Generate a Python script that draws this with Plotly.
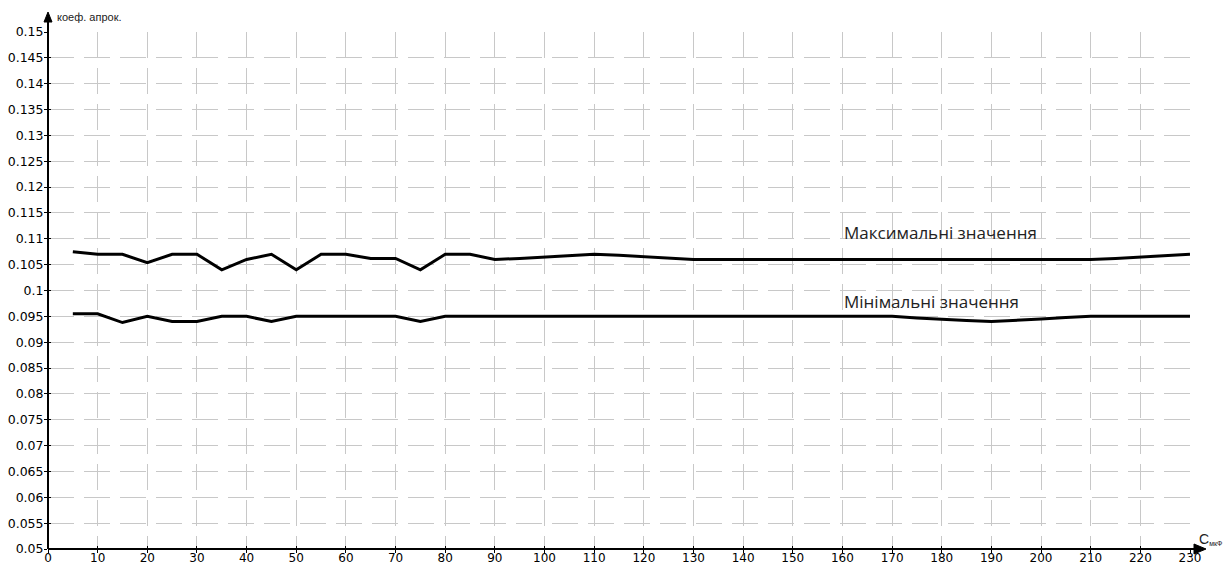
import plotly.graph_objects as go

x_vals = [5, 10, 15, 20, 25, 30, 35, 40, 45, 50, 55, 60, 65, 70, 75, 80, 85, 90, 95, 100,
          105, 110, 115, 120, 125, 130, 135, 140, 145, 150, 155, 160, 165, 170, 175, 180,
          185, 190, 195, 200, 205, 210, 215, 220, 225, 230]
max_vals = [0.1075, 0.107, 0.107, 0.1054, 0.107, 0.107, 0.104, 0.106, 0.107, 0.104,
            0.107, 0.107, 0.1062, 0.1062, 0.104, 0.107, 0.107, 0.106, 0.1062, 0.1065,
            0.1068, 0.107, 0.1068, 0.1065, 0.1062, 0.106, 0.106, 0.106, 0.106, 0.106,
            0.106, 0.106, 0.106, 0.106, 0.106, 0.106, 0.106, 0.106, 0.106, 0.106,
            0.106, 0.106, 0.1062, 0.1065, 0.1068, 0.107]
min_vals = [0.0955, 0.0955, 0.0938, 0.095, 0.094, 0.094, 0.095, 0.095, 0.094, 0.095,
            0.095, 0.095, 0.095, 0.095, 0.094, 0.095, 0.095, 0.095, 0.095, 0.095,
            0.095, 0.095, 0.095, 0.095, 0.095, 0.095, 0.095, 0.095, 0.095, 0.095,
            0.095, 0.095, 0.095, 0.095, 0.0947, 0.0944, 0.0942, 0.094, 0.0942, 0.0945,
            0.0948, 0.095, 0.095, 0.095, 0.095, 0.095]

x_ticks = list(range(0, 231, 10))
y_ticks = [round(0.05 + 0.005 * i, 3) for i in range(21)]
y_ticktext = [f"{v:g}" for v in y_ticks]

label_max = "Максимальні значення"
label_min = "Мінімальні значення"
y_title = "коеф. апрок."
x_title = "<span style='font-size:14px'>С</span><sub>мкФ</sub>"

W, H = 1232, 567
ML, MR, MT, MB = 48, 42, 32, 18
PW, PH = W - ML - MR, H - MT - MB

def px_x(p):  # page pixel -> paper
    return (p - ML) / PW

def px_y(p):
    return (H - MB - p) / PH

fig = go.Figure()
fig.add_trace(go.Scatter(x=x_vals, y=max_vals, mode="lines",
                         line=dict(color="black", width=3), showlegend=False))
fig.add_trace(go.Scatter(x=x_vals, y=min_vals, mode="lines",
                         line=dict(color="black", width=3), showlegend=False))

grid_col = "#c8c8c8"
tick_font = dict(family="DejaVu Sans", size=12, color="black")
fig.update_layout(
    xaxis=dict(range=[0, 230], tickvals=x_ticks, ticktext=[str(t) for t in x_ticks],
               showgrid=True, gridcolor=grid_col, gridwidth=1, griddash="26px,10px",
               zeroline=False, showline=False, ticks="outside", ticklen=3,
               tickcolor="black", tickfont=tick_font, automargin=False,
               ticklabelstandoff=-5),
    yaxis=dict(range=[0.05, 0.15], tickvals=y_ticks, ticktext=y_ticktext,
               showgrid=True, gridcolor=grid_col, gridwidth=1, griddash="26px,10px",
               zeroline=False, showline=False, ticks="outside", ticklen=3,
               tickcolor="black", tickfont=dict(family="DejaVu Sans", size=12.5, color="black"),
               automargin=False, ticklabelstandoff=-2),
    xaxis2=dict(range=[0, 230], tickvals=x_ticks, overlaying="x", side="bottom",
                showgrid=False, zeroline=False, showline=False, ticks="inside",
                ticklen=3, tickcolor="black", showticklabels=False),
    yaxis2=dict(range=[0.05, 0.15], tickvals=y_ticks, overlaying="y", side="left",
                showgrid=False, zeroline=False, showline=False, ticks="inside",
                ticklen=3, tickcolor="black", showticklabels=False),
)
# invisible trace so the secondary axes are drawn
fig.add_trace(go.Scatter(x=[None], y=[None], xaxis="x2", yaxis="y2",
                         showlegend=False, hoverinfo="skip"))

# axis lines with arrows
y_top = px_y(12)
y_base = px_y(22)
hw = 4 / PW
fig.add_shape(type="line", xref="paper", yref="paper", x0=0, x1=0, y0=0, y1=y_base,
              line=dict(color="black", width=2))
fig.add_shape(type="path", xref="paper", yref="paper",
              path=f"M {-hw},{y_base} L {hw},{y_base} L 0,{y_top} Z",
              fillcolor="black", line=dict(color="black", width=1))
x_end = px_x(1206)
x_base = px_x(1194)
hh = 5 / PH
fig.add_shape(type="line", xref="paper", yref="paper", x0=0, x1=x_base, y0=0, y1=0,
              line=dict(color="black", width=2))
fig.add_shape(type="path", xref="paper", yref="paper",
              path=f"M {x_base},{-hh} L {x_base},{hh} L {x_end},0 Z",
              fillcolor="black", line=dict(color="black", width=1))

fig.add_annotation(x=160.0, y=0.1112, xref="x", yref="y", text=label_max, showarrow=False,
                   xanchor="left", yanchor="middle",
                   font=dict(family="Open Sans", size=17, color="#222222"))
fig.add_annotation(x=160.0, y=0.0979, xref="x", yref="y", text=label_min, showarrow=False,
                   xanchor="left", yanchor="middle",
                   font=dict(family="Open Sans", size=17, color="#222222"))
fig.add_annotation(x=px_x(55), y=px_y(17), xref="paper", yref="paper", text=y_title,
                   showarrow=False, xanchor="left", yanchor="middle",
                   font=dict(family="Liberation Sans", size=11, color="#222222"))
fig.add_annotation(x=px_x(1197), y=px_y(539), xref="paper", yref="paper", text=x_title,
                   showarrow=False, xanchor="left", yanchor="middle",
                   font=dict(family="Liberation Sans", size=10, color="#222222"))

fig.update_layout(width=W, height=H, margin=dict(l=ML, r=MR, t=MT, b=MB),
                  plot_bgcolor="white", paper_bgcolor="white")
fig.write_html("out.html", config={"displayModeBar": False},
               post_script="document.body.style.margin='0';document.body.style.overflow='hidden';")
